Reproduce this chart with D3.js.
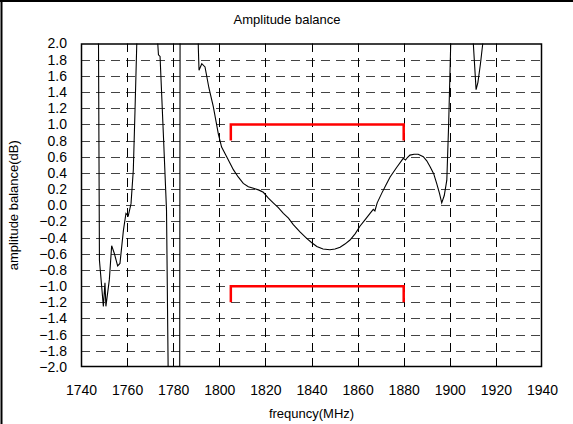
<!DOCTYPE html>
<html>
<head>
<meta charset="utf-8">
<script src="https://cdn.jsdelivr.net/npm/d3@7"></script>
<style>
  html, body { margin: 0; padding: 0; background: #fff; }
  svg { display: block; }
  text { font-family: "Liberation Sans", Arial, sans-serif; fill: #000; }
</style>
</head>
<body>
<svg id="chart" width="573" height="424"></svg>
<script>
// ---- data ----
const title = "Amplitude balance";
const xLabel = "frequncy(MHz)";
const yLabel = "amplitude balance(dB)";
const xTicks = [1740, 1760, 1780, 1800, 1820, 1840, 1860, 1880, 1900, 1920, 1940];
const yTicks = [-2.0, -1.8, -1.6, -1.4, -1.2, -1.0, -0.8, -0.6, -0.4, -0.2, 0.0, 0.2, 0.4, 0.6, 0.8, 1.0, 1.2, 1.4, 1.6, 1.8, 2.0];
// measured curve (values beyond ±2 go off the plot and are clipped)
const freqs = [1747.5, 1748.0, 1749.7, 1750.4, 1750.8, 1752.3, 1753.3, 1754.5, 1755.9, 1756.9, 1758.4, 1759.5, 1760.5, 1761.7, 1762.7, 1763.4, 1764.2, 1764.6,
  1772.8, 1773.3, 1773.6, 1774.3, 1775.7, 1777.1, 1777.8, 1778.0,
  1782.8, 1783.0,
  1790.7, 1790.9, 1791.2, 1792.4, 1793.8, 1795.5, 1797.4, 1799.6, 1801.0, 1803.2, 1806.1, 1808.2, 1810.4, 1812.6, 1814.8, 1817.0, 1819.1, 1821.2, 1823.4, 1825.6, 1827.8, 1830.0, 1832.1, 1835.0, 1837.9, 1840.0, 1842.3, 1845.0, 1848.0, 1850.2, 1852.4, 1854.5, 1856.7, 1859.0, 1861.0, 1863.2, 1865.4, 1866.8, 1867.5, 1868.5, 1870.5, 1872.3, 1874.1, 1877.0, 1879.8, 1880.8, 1881.6, 1882.7, 1884.5, 1886.3, 1888.5, 1890.0, 1891.4, 1893.0, 1894.3, 1895.5, 1896.5, 1897.6, 1898.7, 1899.5, 1900.4, 1900.7,
  1909.8, 1910.2, 1911.4, 1912.2, 1913.3, 1914.3, 1914.6];
const values = [2.6, -0.68, -1.25, -0.96, -1.25, -0.92, -0.50, -0.60, -0.75, -0.72, -0.31, -0.10, -0.13, 0.02, 0.44, 1.14, 2.0, 2.6,
  2.6, 2.0, 1.86, 1.84, 0.9, -0.06, -2.0, -2.6,
  -2.6, 2.6,
  2.6, 1.95, 1.67, 1.75, 1.71, 1.45, 1.22, 0.88, 0.72, 0.60, 0.44, 0.35, 0.27, 0.23, 0.21, 0.19, 0.16, 0.09, 0.03, -0.03, -0.10, -0.16, -0.24, -0.33, -0.41, -0.46, -0.51, -0.54, -0.55, -0.54, -0.52, -0.48, -0.43, -0.35, -0.26, -0.18, -0.10, -0.05, -0.07, 0.03, 0.15, 0.25, 0.35, 0.47, 0.58, 0.56, 0.59, 0.62, 0.63, 0.63, 0.60, 0.55, 0.48, 0.39, 0.27, 0.15, 0.03, 0.12, 0.31, 1.0, 2.0, 2.6,
  2.6, 2.0, 1.43, 1.52, 1.75, 2.0, 2.6];
// red specification brackets
const limitStart = [1805, 1805];
const limitEnd = [1880, 1880];
const limitLevel = [1.0, -1.0];
const limitLeg = [0.8, -1.2];

// ---- chart ----
const svg = d3.select("#chart");
const W = 573, H = 424;
const plot = { left: 81, right: 542, top: 43.5, bottom: 367 };

const x = d3.scaleLinear().domain([1740, 1940]).range([plot.left, plot.right]);
const y = d3.scaleLinear().domain([-2, 2]).range([plot.bottom, plot.top]);

// outer frame (left + top)
svg.append("line").attr("x1", 1.5).attr("x2", 1.5).attr("y1", 0).attr("y2", H).attr("stroke", "#000").attr("stroke-width", 2);
svg.append("line").attr("x1", 0).attr("x2", W).attr("y1", 1).attr("y2", 1).attr("stroke", "#000").attr("stroke-width", 2);

svg.append("defs").append("clipPath").attr("id", "clip")
  .append("rect").attr("x", plot.left).attr("y", plot.top)
  .attr("width", plot.right - plot.left).attr("height", plot.bottom - plot.top);

// horizontal grid
svg.append("g").selectAll("line")
  .data(yTicks.filter(v => v > -2 && v < 2))
  .join("line")
  .attr("x1", plot.left).attr("x2", plot.right)
  .attr("y1", d => Math.round(y(d)) + 0.5).attr("y2", d => Math.round(y(d)) + 0.5)
  .attr("stroke", "#444").attr("stroke-width", 1).attr("stroke-dasharray", "9,6");

// vertical grid
svg.append("g").selectAll("line")
  .data(xTicks.filter(v => v > 1740 && v < 1940))
  .join("line")
  .attr("x1", d => Math.round(x(d)) + 0.5).attr("x2", d => Math.round(x(d)) + 0.5)
  .attr("y1", plot.bottom).attr("y2", plot.top)
  .attr("stroke", "#000").attr("stroke-width", 1).attr("stroke-dasharray", "9,6");

// axes via d3 (labels only, ticks hidden)
const xAxis = svg.append("g").attr("transform", `translate(0,${plot.bottom})`)
  .call(d3.axisBottom(x).tickValues(xTicks).tickFormat(d3.format("d")).tickSize(0).tickPadding(18));
xAxis.select(".domain").remove();
xAxis.selectAll("text").attr("font-size", 14).attr("font-family", "Liberation Sans, Arial, sans-serif");

const yAxis = svg.append("g").attr("transform", `translate(${plot.left},0)`)
  .call(d3.axisLeft(y).tickValues(yTicks).tickFormat(d => d3.format(".1f")(d).replace("-", "\u2212")).tickSize(0).tickPadding(14));
yAxis.select(".domain").remove();
yAxis.selectAll("text").attr("font-size", 14).attr("font-family", "Liberation Sans, Arial, sans-serif");

// red limit brackets
const bracket = d3.line().x(d => x(d[0])).y(d => y(d[1]));
const bracketData = limitLevel.map((lv, i) => [
  [limitStart[i], limitLeg[i]], [limitStart[i], lv], [limitEnd[i], lv], [limitEnd[i], limitLeg[i]]
]);
svg.append("g").selectAll("path").data(bracketData).join("path")
  .attr("d", bracket).attr("fill", "none").attr("stroke", "#ff0000").attr("stroke-width", 2.5);

// curve
const pts = freqs.map((f, i) => [f, values[i]]);
svg.append("path").datum(pts)
  .attr("clip-path", "url(#clip)")
  .attr("d", d3.line().x(d => x(d[0])).y(d => y(d[1])))
  .attr("fill", "none").attr("stroke", "#000").attr("stroke-width", 1.1);

// plot border
svg.append("rect").attr("x", plot.left + 0.5).attr("y", plot.top + 0.5)
  .attr("width", plot.right - plot.left - 1).attr("height", plot.bottom - plot.top - 1)
  .attr("fill", "none").attr("stroke", "#000").attr("stroke-width", 1.5);

// title and axis labels
svg.append("text").attr("x", 287).attr("y", 24).attr("text-anchor", "middle").attr("font-size", 13).text(title);
svg.append("text").attr("x", (plot.left + plot.right) / 2).attr("y", 418).attr("text-anchor", "middle").attr("font-size", 13).text(xLabel);
svg.append("text").attr("transform", `translate(18,${(plot.top + plot.bottom) / 2}) rotate(-90)`)
  .attr("text-anchor", "middle").attr("font-size", 13).text(yLabel);
</script>
</body>
</html>
